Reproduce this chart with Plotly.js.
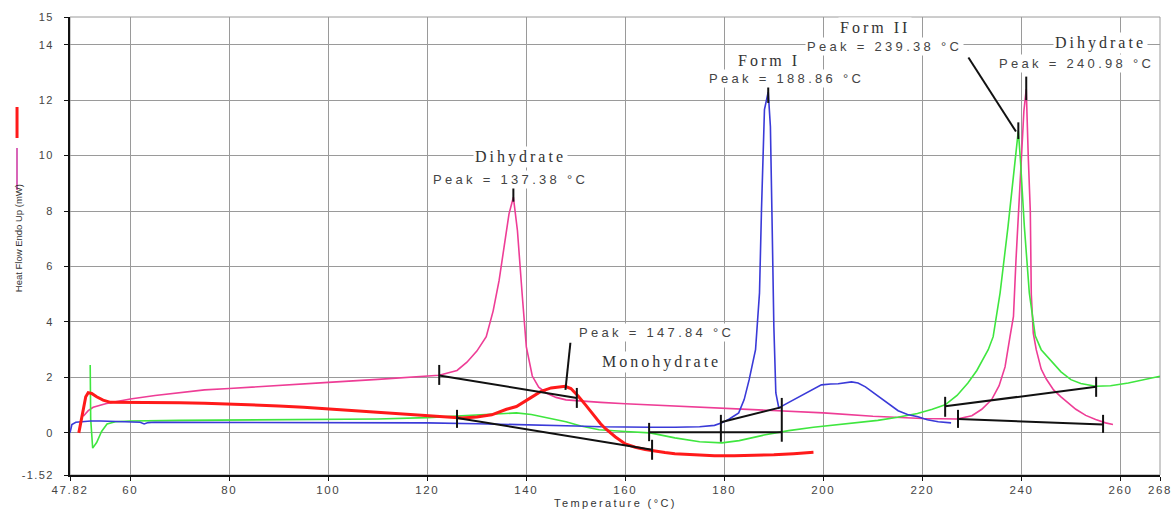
<!DOCTYPE html>
<html>
<head>
<meta charset="utf-8">
<script src="https://cdn.plot.ly/plotly-3.0.1.min.js"></script>
<style>
html,body{margin:0;padding:0;background:#fff;}
#chart{width:1174px;height:511px;}
.xtick text{letter-spacing:1.6px;}
.ytick text{letter-spacing:1.4px;}
</style>
</head>
<body>
<div id="chart"></div>
<script>
// ---- Data (Temperature in °C, Heat flow in mW) ----
const redX = [49.6, 50.3, 51.0, 51.5, 52.2, 53.2, 54.5, 56, 58, 62, 66, 70, 75, 80, 85, 90, 95, 100, 105, 110, 115, 120, 124, 127, 130, 133, 136, 138, 141, 143, 145, 147.84, 149, 150.5, 152, 154, 155, 156, 158, 160, 162, 164, 166, 168, 170, 174, 178, 182, 186, 190, 194, 198];
const redY = [0, 0.7, 1.3, 1.45, 1.42, 1.3, 1.18, 1.1, 1.1, 1.1, 1.1, 1.09, 1.07, 1.04, 1.0, 0.97, 0.92, 0.86, 0.8, 0.72, 0.66, 0.6, 0.56, 0.54, 0.57, 0.65, 0.85, 0.95, 1.28, 1.5, 1.62, 1.68, 1.6, 1.32, 1.0, 0.55, 0.33, 0.15, -0.15, -0.4, -0.52, -0.6, -0.66, -0.71, -0.75, -0.8, -0.83, -0.83, -0.82, -0.79, -0.75, -0.7];

const pinkX = [50.5, 51.5, 52.5, 53.5, 55, 57, 60, 65, 70, 75, 80, 90, 100, 110, 115, 120, 122.4, 126, 128, 130, 131.9, 133.3, 134.5, 135.5, 136.5, 137.38, 138.2, 139.2, 140, 141.2, 142.5, 144, 146, 148, 150, 155, 160, 170, 180, 190, 200, 210, 220, 227, 230, 232, 234, 235.5, 236.7, 237.7, 238.4, 238.9, 239.5, 240.0, 240.5, 240.98, 241.4, 241.8, 242.0, 242.4, 243, 244, 245, 246.5, 248, 249, 251, 253, 255, 257, 258.5];
const pinkY = [0.6, 0.8, 0.92, 0.98, 1.05, 1.12, 1.22, 1.35, 1.45, 1.55, 1.6, 1.7, 1.82, 1.93, 1.98, 2.03, 2.08, 2.25, 2.55, 2.95, 3.47, 4.4, 5.5, 6.7, 7.9, 8.5, 7.3, 4.9, 3.1, 2.05, 1.65, 1.44, 1.28, 1.19, 1.16, 1.1, 1.05, 0.97, 0.9, 0.82, 0.72, 0.6, 0.52, 0.5, 0.62, 0.85, 1.2, 1.7, 2.38, 3.47, 4.2, 6.2, 8.0, 9.9, 11.6, 12.4, 9.9, 8.0, 5.0, 3.6, 3.0, 2.3, 1.95, 1.55, 1.3, 1.15, 0.85, 0.63, 0.48, 0.36, 0.3];

const greenX = [51.9, 52.0, 52.4, 53.2, 54.2, 55.3, 57, 60, 70, 80, 90, 100, 110, 120, 125, 130, 135, 138, 141, 144.5, 148, 151, 154.7, 160, 165, 170, 175, 179.5, 183, 188, 193, 198, 203, 208, 211, 215, 219, 222, 224.6, 227, 229.2, 231, 233.3, 234.3, 235.7, 237.3, 238.7, 239.38, 239.8, 240.6, 241.6, 242.8, 244, 246, 248, 250, 252, 255, 258, 261.6, 265, 268];
const greenY = [2.45, 0.5, -0.55, -0.35, 0.05, 0.32, 0.4, 0.43, 0.45, 0.46, 0.47, 0.48, 0.5, 0.55, 0.6, 0.65, 0.7, 0.72, 0.66, 0.54, 0.4, 0.25, 0.11, 0.05, 0.0, -0.18, -0.32, -0.36, -0.28, -0.08, 0.08, 0.2, 0.3, 0.38, 0.45, 0.56, 0.7, 0.85, 1.01, 1.35, 1.8, 2.25, 3.0, 3.47, 5.05, 7.44, 9.86, 10.9, 9.86, 7.44, 5.05, 3.5, 3.0, 2.6, 2.2, 1.92, 1.78, 1.68, 1.7, 1.8, 1.92, 2.04];

const blueX = [47.82, 48.2, 49, 50, 52, 54, 56, 58, 60, 62, 62.8, 63.6, 65, 70, 80, 90, 100, 110, 120, 130, 140, 150, 155, 160, 165, 170, 175, 178, 179.5, 181, 182.9, 184, 185, 186.3, 187.1, 187.5, 188.1, 188.86, 189.3, 189.6, 190, 190.4, 191, 192, 193.5, 195, 197, 199.6, 201.5, 203, 205.7, 207, 208.5, 210.5, 212.5, 215.1, 217, 219.1, 221, 223.2, 225.8];
const blueY = [0, 0.3, 0.38, 0.4, 0.43, 0.43, 0.42, 0.4, 0.4, 0.38, 0.32, 0.37, 0.38, 0.38, 0.38, 0.38, 0.37, 0.37, 0.36, 0.33, 0.3, 0.25, 0.22, 0.2, 0.2, 0.2, 0.22, 0.27, 0.36, 0.5, 0.72, 1.2, 1.91, 3.0, 5.05, 8.05, 11.66, 12.3, 11.05, 8.05, 3.83, 1.44, 0.9, 1.0, 1.15, 1.3, 1.5, 1.73, 1.76, 1.77, 1.84, 1.8, 1.66, 1.4, 1.12, 0.8, 0.66, 0.58, 0.47, 0.4, 0.36];

// integration baselines / leader lines (start x, start y, end x, end y)
const lineX0 = [122.4, 126.0, 164.8, 179.3, 224.6, 227.2, 229.3, 147.9];
const lineY0 = [2.07, 0.54, 0.02, 0.38, 0.96, 0.5, 13.54, 1.55];
const lineX1 = [150.2, 165.4, 191.6, 191.4, 255.1, 256.5, 238.9, 148.9];
const lineY1 = [1.26, -0.61, 0.02, 0.92, 1.66, 0.3, 10.87, 3.25];

// vertical limit / peak markers (x, low y, high y)
const markX  = [122.4, 150.2, 126.0, 165.4, 164.8, 179.3, 191.6, 224.6, 255.1, 227.2, 256.5, 137.38, 188.86, 239.38, 240.98];
const markLo = [1.73, 0.9, 0.18, -0.97, -0.3, -0.32, -0.32, 0.58, 1.3, 0.18, 0.0, 8.34, 11.9, 10.6, 12.0];
const markHi = [2.45, 1.62, 0.83, -0.25, 0.36, 0.65, 1.26, 1.3, 2.02, 0.83, 0.65, 8.9, 12.5, 11.2, 12.85];

// axis ticks
const xTickVals = [47.82, 60, 80, 100, 120, 140, 160, 180, 200, 220, 240, 260, 268];
const xTickText = ['47.82', '60', '80', '100', '120', '140', '160', '180', '200', '220', '240', '260', '268'];
const yTickVals = [-1.52, 0, 2, 4, 6, 8, 10, 12, 14, 15];
const yTickText = ['-1.52', '0', '2', '4', '6', '8', '10', '12', '14', '15'];

// peak labels
const labelText = ['Dihydrate', 'Peak = 137.38 °C', 'Peak = 147.84 °C', 'Monohydrate', 'Form I', 'Peak = 188.86 °C', 'Form II', 'Peak = 239.38 °C', 'Dihydrate', 'Peak = 240.98 °C'];
const labelSerif = [true, false, false, true, true, false, true, false, true, false];
const labelX = [138.75, 136.7, 166.2, 167.4, 188.95, 192.6, 210.5, 212.3, 255.9, 251.2];
const labelY = [9.96, 9.13, 3.61, 2.56, 13.43, 12.78, 14.62, 13.94, 14.08, 13.32];

// ---- build traces ----
const traces = [];
function curve(x, y, color, width) {
  traces.push({x: x, y: y, type: 'scatter', mode: 'lines', line: {color: color, width: width}, hoverinfo: 'skip'});
}
curve(pinkX, pinkY, '#ee3d96', 1.6);
curve(greenX, greenY, '#3fe63f', 1.6);
curve(blueX, blueY, '#3a3ad8', 1.6);
curve(redX, redY, '#ff1a1a', 3);

const segX = [], segY = [];
for (let i = 0; i < lineX0.length; i++) {
  segX.push(lineX0[i], lineX1[i], null);
  segY.push(lineY0[i], lineY1[i], null);
}
for (let i = 0; i < markX.length; i++) {
  segX.push(markX[i], markX[i], null);
  segY.push(markLo[i], markHi[i], null);
}
traces.push({x: segX, y: segY, type: 'scatter', mode: 'lines', line: {color: '#111', width: 2}, hoverinfo: 'skip', connectgaps: false});

const annotations = labelText.map((t, i) => ({
  x: labelX[i], y: labelY[i], xref: 'x', yref: 'y', showarrow: false,
  text: '<span style="letter-spacing:' + (labelSerif[i] ? '3px' : '3.3px') + '">' + t + '</span>',
  font: labelSerif[i] ? {family: 'Liberation Serif, Times New Roman, serif', size: 16, color: '#333'}
                      : {family: 'Liberation Sans, Arial, sans-serif', size: 13, color: '#444'},
  bgcolor: '#ffffff', borderpad: 1
}));
annotations.push({
  x: 0.5, y: -0.0764, xref: 'paper', yref: 'paper', showarrow: false, yanchor: 'bottom',
  text: '<span style="letter-spacing:2.4px">Temperature (°C)</span>',
  font: {family: 'Liberation Sans, Arial, sans-serif', size: 11, color: '#333'}, borderpad: 0
});
annotations.push({
  x: -0.0477, y: 0.517, xref: 'paper', yref: 'paper', showarrow: false, textangle: -90,
  xanchor: 'center', yanchor: 'middle',
  text: 'Heat Flow Endo Up (mW)',
  font: {family: 'Liberation Sans, Arial, sans-serif', size: 9.5, color: '#333'}
});

const layout = {
  width: 1174, height: 511,
  margin: {l: 70, r: 14, t: 17, b: 36},
  paper_bgcolor: '#fff', plot_bgcolor: '#fff',
  showlegend: false,
  xaxis: {
    range: [47.82, 268], tickmode: 'array', tickvals: xTickVals, ticktext: xTickText,
    showgrid: true, gridcolor: '#9a9a9a', gridwidth: 1, zeroline: false,
    showline: true, linecolor: '#111', linewidth: 1.5,
    ticks: 'outside', ticklen: 4, tickcolor: '#111', tickwidth: 1, ticklabelstandoff: 0,
    tickfont: {family: 'Liberation Sans, Arial, sans-serif', size: 11.5, color: '#444'}
  },
  yaxis: {
    range: [-1.52, 15], tickmode: 'array', tickvals: yTickVals, ticktext: yTickText,
    showgrid: true, gridcolor: '#9a9a9a', gridwidth: 1, zeroline: false,
    showline: true, linecolor: '#111', linewidth: 2,
    ticks: 'outside', ticklen: 4, tickcolor: '#111', tickwidth: 1, ticklabelstandoff: 8,
    tickfont: {family: 'Liberation Sans, Arial, sans-serif', size: 11, color: '#444'}
  },
  shapes: [
    {type: 'rect', xref: 'paper', yref: 'paper', x0: 0, x1: 1, y0: 0, y1: 1, line: {color: '#9a9a9a', width: 1}, layer: 'below'},
    {type: 'line', xref: 'paper', yref: 'paper', x0: -0.0486, x1: -0.0486, y0: 0.7358, y1: 0.8035, line: {color: '#ff1a1a', width: 3}},
    {type: 'line', xref: 'paper', yref: 'paper', x0: -0.0486, x1: -0.0486, y0: 0.6223, y1: 0.714, line: {color: '#d865b8', width: 2}}
  ],
  annotations: annotations
};

Plotly.newPlot('chart', traces, layout, {staticPlot: true, displayModeBar: false});
</script>
</body>
</html>
